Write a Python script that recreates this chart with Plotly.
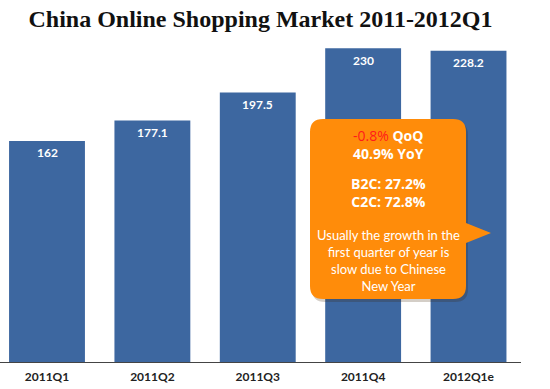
import plotly.graph_objects as go

categories = ["2011Q1", "2011Q2", "2011Q3", "2011Q4", "2012Q1e"]
values = [162, 177.1, 197.5, 230, 228.2]
value_labels = ["162", "177.1", "197.5", "230", "228.2"]

title_text = "China Online Shopping Market 2011-2012Q1"
growth_lines = [
    "<span style='color:#ff1a1a;font-weight:normal'>-0.8%</span> QoQ",
    "40.9% YoY",
]
share_lines = [
    "B2C: 27.2%",
    "C2C: 72.8%",
]
note_lines = [
    "Usually the growth in the",
    "first quarter of year is",
    "slow due to Chinese",
    "New Year",
]

BAR = "#3d67a0"
ORANGE = "#ff8c0a"

W, H = 550, 389
L, R, T, B = 0, 521, 40, 362


def px(x):
    return (x - L) / (R - L)


def py(y):
    return (B - y) / (B - T)


fig = go.Figure()
fig.add_trace(go.Bar(
    x=list(range(len(categories))), y=values,
    marker=dict(color=BAR, line=dict(width=0)),
    width=0.72, hoverinfo="skip",
))

annotations = []
for i, (v, lab) in enumerate(zip(values, value_labels)):
    annotations.append(dict(
        x=i, y=v, xref="x", yref="y", text="<b>" + lab + "</b>", showarrow=False,
        yshift=-12, xanchor="center", yanchor="middle",
        font=dict(family="Lato", size=12, color="white"),
    ))

# callout bubble
l, r, t, b, rad = 310, 466, 119, 299, 13
tip_top, tip_y, tip_bot, tip_x = 223, 233, 243, 491
path = (
    f"M {px(l+rad)},{py(t)} L {px(r-rad)},{py(t)} "
    f"Q {px(r)},{py(t)} {px(r)},{py(t+rad)} "
    f"L {px(r)},{py(tip_top)} L {px(tip_x)},{py(tip_y)} L {px(r)},{py(tip_bot)} "
    f"L {px(r)},{py(b-rad)} Q {px(r)},{py(b)} {px(r-rad)},{py(b)} "
    f"L {px(l+rad)},{py(b)} Q {px(l)},{py(b)} {px(l)},{py(b-rad)} "
    f"L {px(l)},{py(t+rad)} Q {px(l)},{py(t)} {px(l+rad)},{py(t)} Z"
)
dx, dy = 2, 3
shadow = (
    f"M {px(l+rad+dx)},{py(t+dy)} L {px(r-rad+dx)},{py(t+dy)} "
    f"Q {px(r+dx)},{py(t+dy)} {px(r+dx)},{py(t+rad+dy)} "
    f"L {px(r+dx)},{py(b-rad+dy)} Q {px(r+dx)},{py(b+dy)} {px(r-rad+dx)},{py(b+dy)} "
    f"L {px(l+rad+dx)},{py(b+dy)} Q {px(l+dx)},{py(b+dy)} {px(l+dx)},{py(b-rad+dy)} "
    f"L {px(l+dx)},{py(t+rad+dy)} Q {px(l+dx)},{py(t+dy)} {px(l+rad+dx)},{py(t+dy)} Z"
)
shapes = [
    dict(type="path", xref="paper", yref="paper", path=shadow,
         fillcolor="rgba(60,30,0,0.22)", line=dict(width=0), layer="above"),
    dict(type="path", xref="paper", yref="paper", path=path,
         fillcolor=ORANGE, line=dict(width=0), layer="above"),
]

cx = 388
for lines, yc in ((growth_lines, 144.3), (share_lines, 192.7)):
    annotations.append(dict(
        x=px(cx), y=py(yc), xref="paper", yref="paper", text="<br>".join(lines),
        showarrow=False, xanchor="center", yanchor="middle", align="center",
        font=dict(family="Open Sans", size=14, color="white", weight="bold"),
    ))
annotations.append(dict(
    x=px(cx), y=py(260.5), xref="paper", yref="paper", text="<br>".join(note_lines),
    showarrow=False, xanchor="center", yanchor="middle", align="center",
    font=dict(family="Lato", size=13, color="white"),
))

fig.update_layout(
    width=W, height=H,
    margin=dict(l=L, r=W - R, t=T, b=H - B, autoexpand=False),
    paper_bgcolor="white", plot_bgcolor="white",
    showlegend=False,
    title=dict(text="<b>" + title_text + "</b>", x=0.5, xanchor="center",
               y=1 - 19 / H, yanchor="middle", xref="paper",
               font=dict(family="Liberation Serif", size=24, color="#111111")),
    xaxis=dict(range=[-0.446, 4.498], tickmode="array",
               tickvals=list(range(len(categories))), ticktext=categories,
               showgrid=False, zeroline=False, showline=True, linecolor="#444",
               linewidth=1, ticks="outside", ticklen=4, tickcolor="rgba(0,0,0,0)",
               tickfont=dict(family="Lato", size=12, color="#222", weight="bold")),
    yaxis=dict(range=[0, 236.03], visible=False, showgrid=False, zeroline=False),
    shapes=shapes, annotations=annotations,
)

fig.write_html("out.html", config={"displayModeBar": False},
               post_script="document.body.style.margin='0px';")
